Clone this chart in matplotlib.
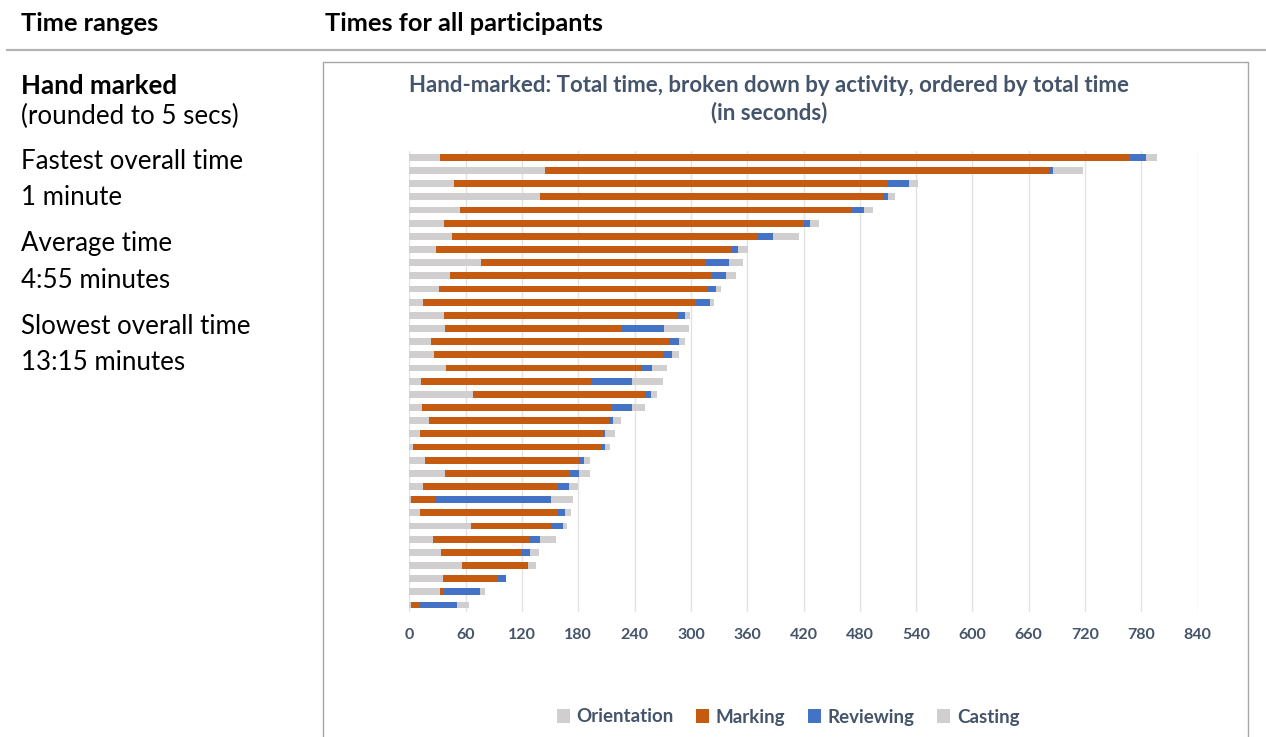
#===[IMPORTS]===#
import matplotlib
matplotlib.use("Agg")  # no display in the sandbox
import matplotlib.pyplot as plt
import numpy as np

plt.rcParams['font.family'] = ['Lato', 'DejaVu Sans']

#===[DATA]===#
# seconds per activity, one entry per participant, ordered by total time (slowest first)
orientation = [33, 145, 47, 139, 54, 37, 45, 28, 76, 43, 32, 14, 37, 38, 23, 26, 39, 12,
               68, 13, 21, 11, 4, 17, 38, 15, 2, 11, 66, 25, 34, 56, 36, 33, 2]
marking = [735, 537, 463, 366, 418, 384, 325, 315, 240, 280, 286, 291, 249, 189, 254, 244, 208, 182,
           184, 203, 192, 195, 200, 164, 133, 143, 25, 147, 85, 102, 85, 69, 58, 4, 9]
reviewing = [17, 4, 22, 5, 13, 6, 17, 7, 25, 14, 9, 15, 8, 44, 10, 10, 12, 43,
             6, 21, 4, 2, 4, 5, 10, 12, 124, 8, 13, 12, 9, 1, 9, 38, 40]
casting = [12, 32, 10, 7, 9, 9, 28, 11, 15, 11, 5, 5, 5, 27, 7, 7, 16, 33,
           6, 14, 9, 11, 6, 6, 11, 10, 23, 6, 4, 17, 10, 9, 0, 6, 12]

activities = ["Orientation", "Marking", "Reviewing", "Casting"]
colors = ["#D0CECE", "#C55A11", "#4472C4", "#D0CECE"]
ticks = list(range(0, 841, 60))

summary_lines = [("Hand marked", "bold"), ("(rounded to 5 secs)", "normal"),
                 ("Fastest overall time", "normal"), ("1 minute", "normal"),
                 ("Average time", "normal"), ("4:55 minutes", "normal"),
                 ("Slowest overall time", "normal"), ("13:15 minutes", "normal")]
summary_y = [94, 124, 169, 205, 251, 288, 334, 370]  # baselines in pixels from top

W, H = 1266, 737
fig = plt.figure(figsize=(W / 100, H / 100), dpi=100)

def px(x, y):  # pixel coords (from top-left) to figure fraction
    return x / W, 1 - y / H

#===[PAGE TEXT]===#
dark = "#000000"
fig.text(*px(21, 31), "Time ranges", fontsize=18.3, fontweight="bold", color=dark, va="baseline")
fig.text(*px(325, 31), "Times for all participants", fontsize=18.3, fontweight="bold", color=dark, va="baseline")
fig.add_artist(plt.Line2D([7 / W, 1], [1 - 50 / H] * 2, color="#B4B4B4", lw=1.6))

for (txt, wt), yy in zip(summary_lines, summary_y):
    fig.text(*px(21, yy), txt, fontsize=18.6, fontweight=wt, color=dark, va="baseline")

# chart frame (runs off the bottom of the page)
fig.add_artist(plt.Rectangle(px(323, 745), (1248 - 323) / W, (745 - 62) / H,
                             fill=False, edgecolor="#A6A6A6", lw=1.0))

#===[CHART]===#
slate = "#44546A"
ax = fig.add_axes([409.4 / W, 1 - 611.6 / H, (1197.6 - 409.4) / W, (611.6 - 150.7) / H])
rows = np.arange(len(marking))
left = np.zeros(len(marking))
for name, vals, col in zip(activities, [orientation, marking, reviewing, casting], colors):
    ax.barh(rows, vals, left=left, height=0.52, color=col, label=name)
    left = left + np.array(vals)

ax.set_xlim(0, 840)
ax.set_ylim(len(marking) - 0.5, -0.5)  # slowest on top
ax.set_xticks(ticks)
ax.set_yticks([])
ax.tick_params(axis="x", length=0, pad=12, labelsize=11.5, labelcolor=slate)
for lab in ax.get_xticklabels():
    lab.set_fontweight("bold")
ax.grid(axis="x", color="#E3E3E3", lw=1)
ax.set_axisbelow(True)
for s in ax.spines.values():
    s.set_visible(False)

fig.text(*px(769, 99), "Hand-marked: Total time, broken down by activity, ordered by total time\n(in seconds)",
         ha="center", va="center", fontsize=16, fontweight="bold", color=slate, linespacing=1.35)

handles, labels = ax.get_legend_handles_labels()
leg = fig.legend(handles, labels, loc="center", bbox_to_anchor=px(788, 717), ncol=4, frameon=False,
                 handlelength=0.7, handleheight=0.7, handletextpad=0.35, columnspacing=1.2,
                 prop={"size": 13.5, "weight": "bold"})
for t in leg.get_texts():
    t.set_color(slate)

fig.savefig("out.png", dpi=100)
